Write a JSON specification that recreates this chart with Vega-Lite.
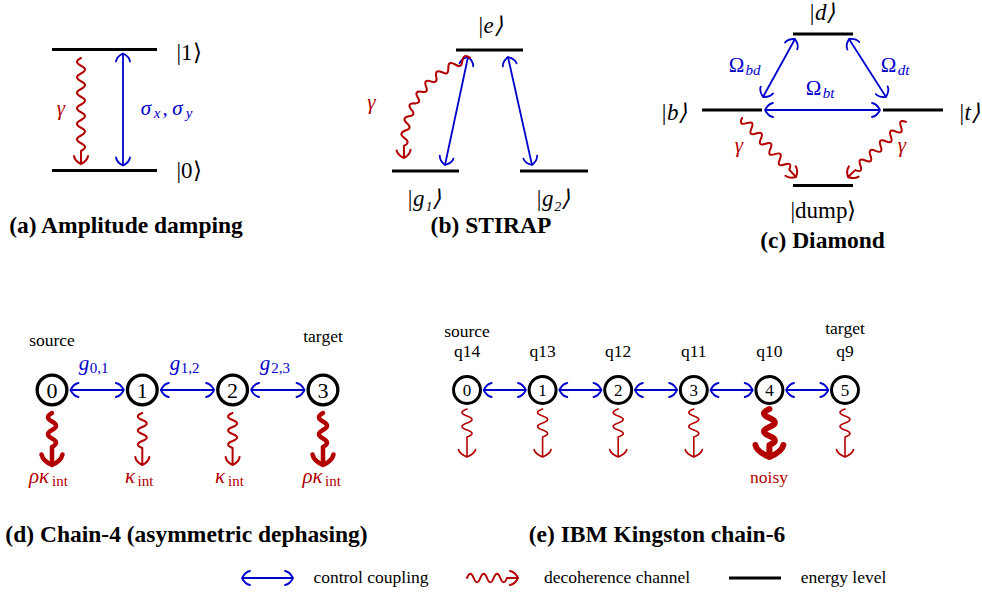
{
  "$schema": "https://vega.github.io/schema/vega-lite/v6.json",
  "width": 982,
  "height": 594,
  "autosize": {"type": "fit", "contains": "padding"},
  "padding": 0,
  "background": "white",
  "config": {"view": {"stroke": null}},
  "datasets": {
    "levels": [
      {"x": 52, "x2": 157, "y": 49.5},
      {"x": 52, "x2": 157, "y": 170.5},
      {"x": 456, "x2": 523, "y": 50},
      {"x": 392, "x2": 459, "y": 171},
      {"x": 520, "x2": 588, "y": 171},
      {"x": 793, "x2": 853, "y": 34},
      {"x": 702, "x2": 762, "y": 110},
      {"x": 883, "x2": 943, "y": 110},
      {"x": 793, "x2": 853, "y": 185.5},
      {"x": 729, "x2": 781, "y": 578}
    ],
    "arrows": [
      {"x": 123, "y": 53.5, "x2": 123, "y2": 165.5},
      {"x": 468, "y": 57, "x2": 445, "y2": 165},
      {"x": 508, "y": 57, "x2": 532, "y2": 165},
      {"x": 795, "y": 39, "x2": 763, "y2": 97},
      {"x": 849, "y": 39, "x2": 886, "y2": 97},
      {"x": 765, "y": 110, "x2": 880, "y2": 110},
      {"x": 70.5, "y": 390, "x2": 123.8, "y2": 390},
      {"x": 160.8, "y": 390, "x2": 214.1, "y2": 390},
      {"x": 251.1, "y": 390, "x2": 304.5, "y2": 390},
      {"x": 483.7, "y": 390, "x2": 525.9, "y2": 390},
      {"x": 559.3, "y": 390, "x2": 601.5, "y2": 390},
      {"x": 634.9, "y": 390, "x2": 677.1, "y2": 390},
      {"x": 710.5, "y": 390, "x2": 752.7, "y2": 390},
      {"x": 786.1, "y": 390, "x2": 828.3, "y2": 390},
      {"x": 242, "y": 578, "x2": 293, "y2": 578}
    ],
    "waves": [
      {"kind": "wa", "x0": 81, "y0": 58, "x": 81, "y": 164},
      {"kind": "wb", "x0": 470, "y0": 58, "x": 404, "y": 158},
      {"kind": "wc", "x0": 742, "y0": 118, "x": 796, "y": 177},
      {"kind": "wc", "x0": 906, "y0": 122, "x": 848, "y": 177},
      {"kind": "wdk", "x0": 52, "y0": 413, "x": 52, "y": 465},
      {"kind": "wdn", "x0": 142.3, "y0": 413, "x": 142.3, "y": 465},
      {"kind": "wdn", "x0": 232.6, "y0": 413, "x": 232.6, "y": 465},
      {"kind": "wdk", "x0": 323, "y0": 413, "x": 323, "y": 465},
      {"kind": "wen", "x0": 467, "y0": 409, "x": 467, "y": 457},
      {"kind": "wen", "x0": 542.6, "y0": 409, "x": 542.6, "y": 457},
      {"kind": "wen", "x0": 618.2, "y0": 409, "x": 618.2, "y": 457},
      {"kind": "wen", "x0": 693.8, "y0": 409, "x": 693.8, "y": 457},
      {"kind": "wek", "x0": 769.4, "y0": 409, "x": 769.4, "y": 457},
      {"kind": "wen", "x0": 845, "y0": 409, "x": 845, "y": 457},
      {"kind": "wl", "x0": 467, "y0": 578, "x": 518, "y": 578}
    ],
    "nodes": [
      {"p": "d", "x": 52, "y": 390},
      {"p": "d", "x": 142.3, "y": 390},
      {"p": "d", "x": 232.6, "y": 390},
      {"p": "d", "x": 323, "y": 390},
      {"p": "e", "x": 467, "y": 390},
      {"p": "e", "x": 542.6, "y": 390},
      {"p": "e", "x": 618.2, "y": 390},
      {"p": "e", "x": 693.8, "y": 390},
      {"p": "e", "x": 769.4, "y": 390},
      {"p": "e", "x": 845, "y": 390}
    ],
    "texts": [
      {"f": "b", "r": "title", "c": "k", "t": "(a) Amplitude damping", "x": 126, "y": 233},
      {"f": "b", "r": "title", "c": "k", "t": "(b) STIRAP", "x": 491, "y": 233},
      {"f": "b", "r": "title", "c": "k", "t": "(c) Diamond", "x": 822.5, "y": 248},
      {"f": "b", "r": "title", "c": "k", "t": "(d) Chain-4 (asymmetric dephasing)", "x": 186.5, "y": 542},
      {"f": "b", "r": "title", "c": "k", "t": "(e) IBM Kingston chain-6", "x": 657, "y": 542},

      {"f": "u", "r": "ket", "c": "k", "t": "|1⟩", "x": 189, "y": 60},
      {"f": "u", "r": "ket", "c": "k", "t": "|0⟩", "x": 189, "y": 178},
      {"f": "u", "r": "ket", "c": "k", "t": "|dump⟩", "x": 823.5, "y": 218},
      {"f": "u", "r": "m", "c": "b", "t": "Ω", "x": 736.5, "y": 72},
      {"f": "u", "r": "m", "c": "b", "t": "Ω", "x": 888.5, "y": 72},
      {"f": "u", "r": "m", "c": "b", "t": "Ω", "x": 813.5, "y": 95},
      {"f": "u", "r": "s", "c": "b", "t": "0,1", "x": 99, "y": 373},
      {"f": "u", "r": "s", "c": "b", "t": "1,2", "x": 190, "y": 373},
      {"f": "u", "r": "s", "c": "b", "t": "2,3", "x": 280.5, "y": 373},
      {"f": "u", "r": "s", "c": "r", "t": "int", "x": 60, "y": 486},
      {"f": "u", "r": "s", "c": "r", "t": "int", "x": 145.5, "y": 486},
      {"f": "u", "r": "s", "c": "r", "t": "int", "x": 236, "y": 486},
      {"f": "u", "r": "s", "c": "r", "t": "int", "x": 333, "y": 486},
      {"f": "u", "r": "nd", "c": "k", "t": "0", "x": 52, "y": 398},
      {"f": "u", "r": "nd", "c": "k", "t": "1", "x": 142.3, "y": 398},
      {"f": "u", "r": "nd", "c": "k", "t": "2", "x": 232.6, "y": 398},
      {"f": "u", "r": "nd", "c": "k", "t": "3", "x": 323, "y": 398},
      {"f": "u", "r": "ne", "c": "k", "t": "0", "x": 467, "y": 396},
      {"f": "u", "r": "ne", "c": "k", "t": "1", "x": 542.6, "y": 396},
      {"f": "u", "r": "ne", "c": "k", "t": "2", "x": 618.2, "y": 396},
      {"f": "u", "r": "ne", "c": "k", "t": "3", "x": 693.8, "y": 396},
      {"f": "u", "r": "ne", "c": "k", "t": "4", "x": 769.4, "y": 396},
      {"f": "u", "r": "ne", "c": "k", "t": "5", "x": 845, "y": 396},
      {"f": "u", "r": "lab", "c": "k", "t": "source", "x": 52, "y": 346},
      {"f": "u", "r": "lab", "c": "k", "t": "target", "x": 323, "y": 342},
      {"f": "u", "r": "lab", "c": "k", "t": "source", "x": 467, "y": 337},
      {"f": "u", "r": "lab", "c": "k", "t": "q14", "x": 467, "y": 357},
      {"f": "u", "r": "lab", "c": "k", "t": "q13", "x": 542.6, "y": 357},
      {"f": "u", "r": "lab", "c": "k", "t": "q12", "x": 618.2, "y": 357},
      {"f": "u", "r": "lab", "c": "k", "t": "q11", "x": 693.8, "y": 357},
      {"f": "u", "r": "lab", "c": "k", "t": "q10", "x": 769.4, "y": 357},
      {"f": "u", "r": "lab", "c": "k", "t": "target", "x": 845, "y": 334},
      {"f": "u", "r": "lab", "c": "k", "t": "q9", "x": 845, "y": 357},
      {"f": "u", "r": "lab", "c": "r", "t": "noisy", "x": 769, "y": 483},
      {"f": "u", "r": "lab", "c": "k", "t": "control coupling", "x": 371, "y": 583},
      {"f": "u", "r": "lab", "c": "k", "t": "decoherence channel", "x": 617, "y": 583},
      {"f": "u", "r": "lab", "c": "k", "t": "energy level", "x": 843.5, "y": 583},

      {"f": "i", "r": "m", "c": "r", "t": "γ", "x": 61, "y": 114.5},
      {"f": "i", "r": "m", "c": "b", "t": "σ", "x": 146, "y": 114.5},
      {"f": "i", "r": "s", "c": "b", "t": "x", "x": 157, "y": 118},
      {"f": "i", "r": "m", "c": "b", "t": ",", "x": 165, "y": 114.5},
      {"f": "i", "r": "m", "c": "b", "t": "σ", "x": 177.5, "y": 114.5},
      {"f": "i", "r": "s", "c": "b", "t": "y", "x": 189, "y": 118},
      {"f": "i", "r": "m", "c": "r", "t": "γ", "x": 371.5, "y": 109},
      {"f": "i", "r": "m", "c": "r", "t": "γ", "x": 739, "y": 152},
      {"f": "i", "r": "m", "c": "r", "t": "γ", "x": 902, "y": 152},
      {"f": "i", "r": "s", "c": "b", "t": "bd", "x": 753, "y": 75},
      {"f": "i", "r": "s", "c": "b", "t": "dt", "x": 903.5, "y": 75},
      {"f": "i", "r": "s", "c": "b", "t": "bt", "x": 828.5, "y": 98},
      {"f": "i", "r": "m", "c": "b", "t": "g", "x": 84, "y": 370},
      {"f": "i", "r": "m", "c": "b", "t": "g", "x": 175, "y": 370},
      {"f": "i", "r": "m", "c": "b", "t": "g", "x": 265, "y": 370},
      {"f": "i", "r": "m", "c": "r", "t": "ρκ", "x": 39, "y": 483},
      {"f": "i", "r": "m", "c": "r", "t": "κ", "x": 130, "y": 483},
      {"f": "i", "r": "m", "c": "r", "t": "κ", "x": 220, "y": 483},
      {"f": "i", "r": "m", "c": "r", "t": "ρκ", "x": 312.5, "y": 483},
      {"f": "i", "r": "ket", "c": "k", "t": "|e⟩", "x": 490, "y": 33},
      {"f": "i", "r": "ket", "c": "k", "t": "|g₁⟩", "x": 424, "y": 205.5},
      {"f": "i", "r": "ket", "c": "k", "t": "|g₂⟩", "x": 553, "y": 205.5},
      {"f": "i", "r": "ket", "c": "k", "t": "|d⟩", "x": 822, "y": 20},
      {"f": "i", "r": "ket", "c": "k", "t": "|b⟩", "x": 674, "y": 120},
      {"f": "i", "r": "ket", "c": "k", "t": "|t⟩", "x": 969, "y": 120}
    ]
  },
  "layer": [
    {
      "data": {"name": "levels"},
      "mark": {"type": "rule", "stroke": "black", "strokeWidth": 3.2},
      "encoding": {
        "x": {"field": "x", "type": "quantitative", "scale": {"domain": [0, 982], "nice": false, "zero": false}, "axis": null},
        "x2": {"field": "x2"},
        "y": {"field": "y", "type": "quantitative", "scale": {"domain": [0, 594], "nice": false, "zero": false, "reverse": true}, "axis": null}
      }
    },
    {
      "data": {"name": "arrows"},
      "mark": {"type": "rule", "stroke": "#0000cc", "strokeWidth": 1.8},
      "encoding": {
        "x": {"field": "x", "type": "quantitative", "scale": {"domain": [0, 982], "nice": false, "zero": false}, "axis": null},
        "x2": {"field": "x2"},
        "y": {"field": "y", "type": "quantitative", "scale": {"domain": [0, 594], "nice": false, "zero": false, "reverse": true}, "axis": null},
        "y2": {"field": "y2"}
      }
    },
    {
      "data": {"name": "arrows"},
      "transform": [{"calculate": "atan2(datum.x2 - datum.x, datum.y - datum.y2) * 180 / PI", "as": "ang"}],
      "mark": {"type": "point", "shape": "M-7,8 C-6.5,4.5 -3,1.5 0,0 C3,1.5 6.5,4.5 7,8", "size": 4, "filled": false, "stroke": "#0000cc", "strokeWidth": 1.8, "opacity": 1, "strokeCap": "round", "strokeJoin": "round"},
      "encoding": {
        "x": {"field": "x2", "type": "quantitative", "scale": {"domain": [0, 982], "nice": false, "zero": false}, "axis": null},
        "y": {"field": "y2", "type": "quantitative", "scale": {"domain": [0, 594], "nice": false, "zero": false, "reverse": true}, "axis": null},
        "angle": {"field": "ang", "type": "quantitative", "scale": null}
      }
    },
    {
      "data": {"name": "arrows"},
      "transform": [{"calculate": "atan2(datum.x - datum.x2, datum.y2 - datum.y) * 180 / PI", "as": "ang"}],
      "mark": {"type": "point", "shape": "M-7,8 C-6.5,4.5 -3,1.5 0,0 C3,1.5 6.5,4.5 7,8", "size": 4, "filled": false, "stroke": "#0000cc", "strokeWidth": 1.8, "opacity": 1, "strokeCap": "round", "strokeJoin": "round"},
      "encoding": {
        "x": {"field": "x", "type": "quantitative", "scale": {"domain": [0, 982], "nice": false, "zero": false}, "axis": null},
        "y": {"field": "y", "type": "quantitative", "scale": {"domain": [0, 594], "nice": false, "zero": false, "reverse": true}, "axis": null},
        "angle": {"field": "ang", "type": "quantitative", "scale": null}
      }
    },
    {
      "data": {"name": "waves"},
      "transform": [{"calculate": "atan2(datum.x - datum.x0, datum.y0 - datum.y) * 180 / PI", "as": "ang"}],
      "mark": {"type": "point", "size": 4, "filled": false, "stroke": "#b30000", "opacity": 1, "strokeCap": "round", "strokeJoin": "round"},
      "encoding": {
        "x": {"field": "x", "type": "quantitative", "scale": {"domain": [0, 982], "nice": false, "zero": false}, "axis": null},
        "y": {"field": "y", "type": "quantitative", "scale": {"domain": [0, 594], "nice": false, "zero": false, "reverse": true}, "axis": null},
        "angle": {"field": "ang", "type": "quantitative", "scale": null},
        "shape": {
          "field": "kind", "type": "nominal", "legend": null,
          "scale": {
            "domain": ["wa", "wb", "wc", "wdn", "wdk", "wen", "wek", "wl"],
            "range": [
              "M0,106 Q8,102.13 0,98.25 Q-8,94.38 0,90.5 Q8,86.63 0,82.75 Q-8,78.88 0,75 Q8,71.13 0,67.25 Q-8,63.38 0,59.5 Q8,55.63 0,51.75 Q-8,47.88 0,44 Q8,40.13 0,36.25 Q-8,32.38 0,28.5 Q8,24.63 0,20.75 Q-8,16.88 0,13 L0,0 M-7,8 C-6.5,4.5 -3,1.5 0,0 C3,1.5 6.5,4.5 7,8",
              "M0,120 Q8.21,120.54 4.75,113.13 Q0.93,106.05 8.93,106.25 Q17,106.06 12.53,99.38 Q7.7,93.12 15.55,92.5 Q23.43,91.41 17.99,85.63 Q12.23,80.36 19.85,78.75 Q27.45,76.6 21.14,71.88 Q14.6,67.72 21.85,65 Q28.98,61.7 21.98,58.13 Q14.84,55.14 21.53,51.25 Q28.02,46.78 20.51,44.38 Q12.96,42.53 18.91,37.5 Q24.56,31.95 16.73,30.63 Q8.92,29.79 13.97,23.75 Q18.67,17.26 10.64,16.88 Q2.67,16.9 6.72,10 L0,0 M-0.91,10.59 C-2.58,7.47 -1.53,2.98 0,0 C3.31,-0.56 7.9,-0.21 10.37,2.31",
              "M0,80 Q8,76.5 0,73 Q-8,69.5 0,66 Q8,62.5 0,59 Q-8,55.5 0,52 Q8,48.5 0,45 Q-8,41.5 0,38 Q8,34.5 0,31 Q-8,27.5 0,24 Q8,20.5 0,17 Q-8,13.5 0,10 L0,0 M-7,8 C-6.5,4.5 -3,1.5 0,0 C3,1.5 6.5,4.5 7,8",
              "M0,52 Q9,48.5 0,45 Q-9,41.5 0,38 Q9,34.5 0,31 Q-9,27.5 0,24 Q9,20.5 0,17 L0,0 M-7,8 C-6.5,4.5 -3,1.5 0,0 C3,1.5 6.5,4.5 7,8",
              "M0,52 Q8,47.75 0,43.5 Q-8,39.25 0,35 Q8,30.75 0,26.5 Q-8,22.25 0,18 L0,0 M-10.5,10.5 C-9.5,6 -4.5,2 0,0 C4.5,2 9.5,6 10.5,10.5",
              "M0,48 Q10,44.5 0,41 Q-10,37.5 0,34 Q10,30.5 0,27 Q-10,23.5 0,20 L0,0 M-8.5,7.5 C-8,4.5 -3.5,1.5 0,0 C3.5,1.5 8,4.5 8.5,7.5",
              "M0,48 Q11,43.5 0,39 Q-11,34.5 0,30 Q11,25.5 0,21 Q-11,16.5 0,12 L0,0 M-14,12 C-13,7 -6,2.5 0,0 C6,2.5 13,7 14,12",
              "M0,51 Q-8.5,47.67 0,44.33 Q8.5,41 0,37.67 Q-8.5,34.33 0,31 Q8.5,27.67 0,24.33 Q-8.5,21 0,17.67 Q8.5,14.33 0,11 L0,0 M-7,8 C-6.5,4.5 -3,1.5 0,0 C3,1.5 6.5,4.5 7,8"
            ]
          }
        },
        "strokeWidth": {
          "field": "kind", "type": "ordinal", "legend": null,
          "scale": {"type": "ordinal", "domain": ["wa", "wb", "wc", "wdn", "wdk", "wen", "wek", "wl"], "range": [2, 2, 2, 2, 4.5, 1.6, 6, 2]}
        }
      }
    },
    {
      "data": {"name": "nodes"},
      "transform": [{"filter": "datum.p === 'd'"}],
      "mark": {"type": "point", "shape": "circle", "size": 881, "filled": true, "fill": "white", "stroke": "black", "strokeWidth": 3.3, "opacity": 1},
      "encoding": {
        "x": {"field": "x", "type": "quantitative", "scale": {"domain": [0, 982], "nice": false, "zero": false}, "axis": null},
        "y": {"field": "y", "type": "quantitative", "scale": {"domain": [0, 594], "nice": false, "zero": false, "reverse": true}, "axis": null}
      }
    },
    {
      "data": {"name": "nodes"},
      "transform": [{"filter": "datum.p === 'e'"}],
      "mark": {"type": "point", "shape": "circle", "size": 726, "filled": true, "fill": "white", "stroke": "black", "strokeWidth": 3, "opacity": 1},
      "encoding": {
        "x": {"field": "x", "type": "quantitative", "scale": {"domain": [0, 982], "nice": false, "zero": false}, "axis": null},
        "y": {"field": "y", "type": "quantitative", "scale": {"domain": [0, 594], "nice": false, "zero": false, "reverse": true}, "axis": null}
      }
    },
    {
      "data": {"name": "texts"},
      "transform": [{"filter": "datum.f === 'u'"}],
      "mark": {"type": "text", "font": "Liberation Serif", "fontStyle": "normal", "align": "center", "baseline": "alphabetic"},
      "encoding": {
        "x": {"field": "x", "type": "quantitative", "scale": {"domain": [0, 982], "nice": false, "zero": false}, "axis": null},
        "y": {"field": "y", "type": "quantitative", "scale": {"domain": [0, 594], "nice": false, "zero": false, "reverse": true}, "axis": null},
        "text": {"field": "t", "type": "nominal"},
        "size": {"field": "r", "type": "ordinal", "legend": null, "scale": {"type": "ordinal", "domain": ["title", "ket", "nd", "ne", "lab", "m", "s"], "range": [23.5, 23, 22, 17, 17.5, 21, 15]}},
        "color": {"field": "c", "type": "nominal", "legend": null, "scale": {"domain": ["k", "r", "b"], "range": ["#000000", "#b30000", "#0000cc"]}}
      }
    },
    {
      "data": {"name": "texts"},
      "transform": [{"filter": "datum.f === 'i'"}],
      "mark": {"type": "text", "font": "Liberation Serif", "fontStyle": "italic", "align": "center", "baseline": "alphabetic"},
      "encoding": {
        "x": {"field": "x", "type": "quantitative", "scale": {"domain": [0, 982], "nice": false, "zero": false}, "axis": null},
        "y": {"field": "y", "type": "quantitative", "scale": {"domain": [0, 594], "nice": false, "zero": false, "reverse": true}, "axis": null},
        "text": {"field": "t", "type": "nominal"},
        "size": {"field": "r", "type": "ordinal", "legend": null, "scale": {"type": "ordinal", "domain": ["title", "ket", "nd", "ne", "lab", "m", "s"], "range": [23.5, 23, 22, 17, 17.5, 21, 15]}},
        "color": {"field": "c", "type": "nominal", "legend": null, "scale": {"domain": ["k", "r", "b"], "range": ["#000000", "#b30000", "#0000cc"]}}
      }
    },
    {
      "data": {"name": "texts"},
      "transform": [{"filter": "datum.f === 'b'"}],
      "mark": {"type": "text", "font": "Liberation Serif", "fontWeight": "bold", "align": "center", "baseline": "alphabetic"},
      "encoding": {
        "x": {"field": "x", "type": "quantitative", "scale": {"domain": [0, 982], "nice": false, "zero": false}, "axis": null},
        "y": {"field": "y", "type": "quantitative", "scale": {"domain": [0, 594], "nice": false, "zero": false, "reverse": true}, "axis": null},
        "text": {"field": "t", "type": "nominal"},
        "size": {"field": "r", "type": "ordinal", "legend": null, "scale": {"type": "ordinal", "domain": ["title", "ket", "nd", "ne", "lab", "m", "s"], "range": [23.5, 23, 22, 17, 17.5, 21, 15]}},
        "color": {"field": "c", "type": "nominal", "legend": null, "scale": {"domain": ["k", "r", "b"], "range": ["#000000", "#b30000", "#0000cc"]}}
      }
    }
  ]
}
